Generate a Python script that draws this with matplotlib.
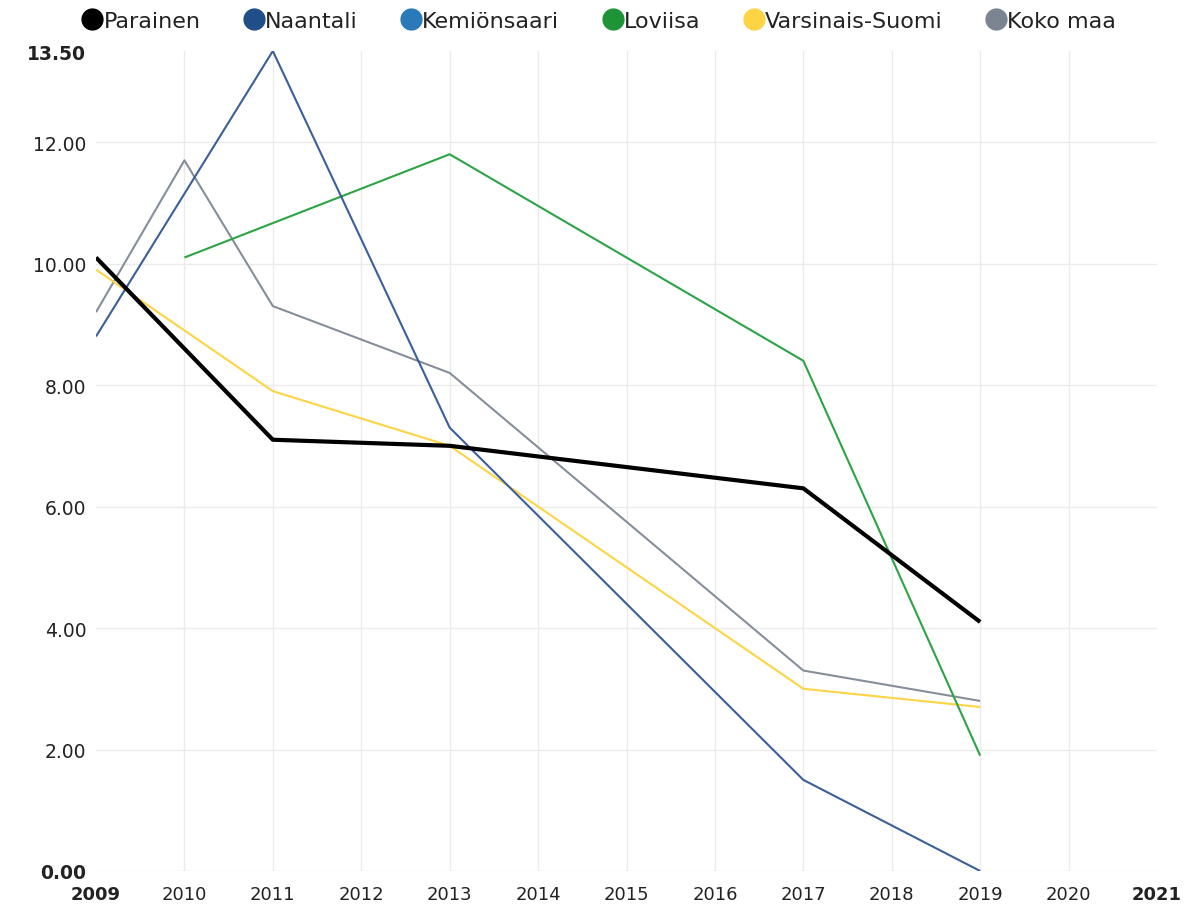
import matplotlib
matplotlib.use("Agg")
import matplotlib.pyplot as plt
from matplotlib.lines import Line2D
import numpy as np

plt.rcParams['font.family'] = ['DejaVu Sans']

series_names = ["Parainen", "Naantali", "Kemiönsaari", "Loviisa", "Varsinais-Suomi", "Koko maa"]
legend_colors = ["#000000", "#1f4e89", "#2a7ab9", "#1e9437", "#fdd443", "#7a8591"]
line_colors = ["#000000", "#3a5f9a", "#2a7ab9", "#2ca444", "#fdd443", "#858e99"]
line_widths = [3.0, 1.5, 1.5, 1.5, 1.5, 1.5]

parainen_years = [2009, 2011, 2013, 2017, 2019]
parainen_vals = [10.1, 7.1, 7.0, 6.3, 4.1]
naantali_years = [2009, 2011, 2013, 2017, 2019]
naantali_vals = [8.8, 13.5, 7.3, 1.5, 0.0]
kemionsaari_years = []
kemionsaari_vals = []
loviisa_years = [2010, 2013, 2017, 2019]
loviisa_vals = [10.1, 11.8, 8.4, 1.9]
vs_years = [2009, 2011, 2013, 2017, 2019]
vs_vals = [9.9, 7.9, 7.0, 3.0, 2.7]
koko_years = [2009, 2010, 2011, 2013, 2017, 2019]
koko_vals = [9.2, 11.7, 9.3, 8.2, 3.3, 2.8]

x_ticks = list(range(2009, 2022))
y_ticks = [0, 2, 4, 6, 8, 10, 12, 13.5]

all_years = [parainen_years, naantali_years, kemionsaari_years, loviisa_years, vs_years, koko_years]
all_vals = [parainen_vals, naantali_vals, kemionsaari_vals, loviisa_vals, vs_vals, koko_vals]

fig = plt.figure(figsize=(11.9, 9.12), dpi=100)
ax = fig.add_axes([96/1190, 40/912, (1157-96)/1190, (872-52)/912])

ax.set_xlim(2009, 2021)
ax.set_ylim(0, 13.5)

# grid
for yv in [0, 2, 4, 6, 8, 10, 12]:
    ax.axhline(yv, color="#ebebeb", lw=1.0, zorder=0)
for xv in range(2010, 2021):
    ax.axvline(xv, color="#ebebeb", lw=1.0, zorder=0)

order = [5, 4, 3, 2, 1, 0]
for i in order:
    if len(all_years[i]) == 0:
        continue
    ax.plot(all_years[i], all_vals[i], color=line_colors[i], lw=line_widths[i],
            solid_capstyle="butt", zorder=3 + (6 - i))

for s in ax.spines.values():
    s.set_visible(False)

ax.set_xticks(x_ticks)
ax.set_xticklabels([str(x) for x in x_ticks], fontsize=13, color="#222222")
for lbl in ax.get_xticklabels():
    if lbl.get_text() in ("2009", "2021"):
        lbl.set_fontweight("bold")
ax.set_yticks(y_ticks)
ax.set_yticklabels(["%.2f" % v for v in y_ticks], fontsize=13.5, color="#222222")
for lbl in ax.get_yticklabels():
    if lbl.get_text() in ("0.00", "13.50"):
        lbl.set_fontweight("bold")
ax.tick_params(axis="y", length=0, pad=7)
ax.tick_params(axis="x", length=0, pad=10)

handles = [Line2D([0], [0], marker="o", linestyle="none", markersize=15,
                  markerfacecolor=c, markeredgecolor=c) for c in legend_colors]
fig.legend(handles, series_names, loc="upper center", bbox_to_anchor=(0.503, 1.009),
           ncol=6, frameon=False, fontsize=16, handletextpad=0.0,
           columnspacing=1.9, handlelength=1.0, labelcolor="#222222")

fig.savefig("out.png", dpi=100)
